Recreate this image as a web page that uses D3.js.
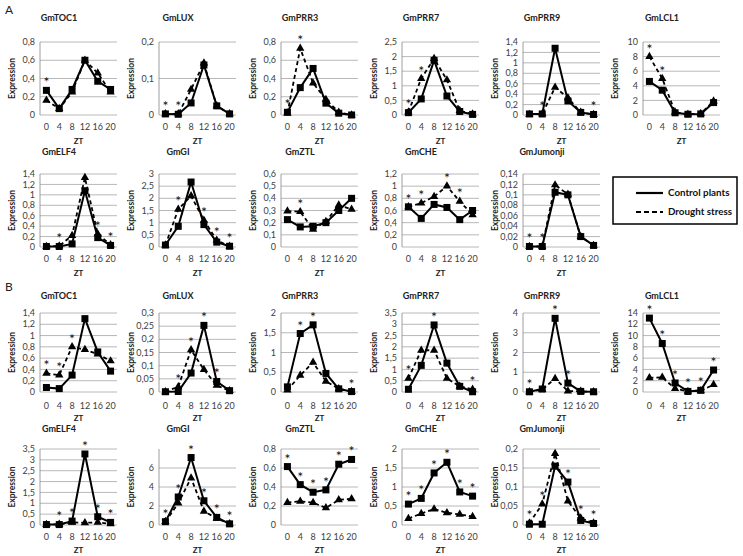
<!DOCTYPE html>
<html>
<head>
<meta charset="utf-8">
<script src="https://cdn.jsdelivr.net/npm/d3@7"></script>
<style>
  body { margin: 0; background: #fff; }
  svg text { font-family: Lato, "Open Sans", sans-serif; }
</style>
</head>
<body>
<script>
const zt = [0, 4, 8, 12, 16, 20];

// panel set A
const genesA = ["GmTOC1", "GmLUX", "GmPRR3", "GmPRR7", "GmPRR9", "GmLCL1", "GmELF4", "GmGI", "GmZTL", "GmCHE", "GmJumonji"];
const yMaxA = [0.8, 0.2, 0.8, 2.5, 1.4, 10, 1.4, 3, 0.6, 1.2, 0.14];
const yTopTickA = [0.8, 0.2, 0.8, 2.5, 1.4, 10, 1.4, 3, 0.6, 1.2, 0.14];
const yStepA = [0.2, 0.1, 0.2, 0.5, 0.2, 2, 0.2, 0.5, 0.1, 0.2, 0.02];
const controlA = [
  [0.27, 0.07, 0.28, 0.60, 0.37, 0.28],
  [0.003, 0.002, 0.033, 0.137, 0.025, 0.003],
  [0.03, 0.30, 0.51, 0.13, 0.02, 0.00],
  [0.08, 0.55, 1.87, 0.65, 0.12, 0.02],
  [0.02, 0.02, 1.28, 0.27, 0.05, 0.01],
  [4.6, 3.4, 0.3, 0.1, 0.15, 1.7],
  [0.01, 0.01, 0.06, 1.08, 0.18, 0.03],
  [0.08, 0.85, 2.67, 0.92, 0.20, 0.03],
  [0.225, 0.165, 0.17, 0.20, 0.30, 0.40],
  [0.66, 0.47, 0.70, 0.65, 0.45, 0.60],
  [0.001, 0.001, 0.105, 0.100, 0.020, 0.003]
];
const droughtA = [
  [0.16, 0.07, 0.25, 0.60, 0.46, 0.25],
  [0.003, 0.003, 0.07, 0.142, 0.025, 0.003],
  [0.02, 0.73, 0.35, 0.17, 0.03, 0.00],
  [0.10, 1.25, 1.93, 1.20, 0.15, 0.03],
  [0.01, 0.02, 0.53, 0.33, 0.05, 0.01],
  [8.0, 5.0, 0.4, 0.1, 0.2, 1.9],
  [0.01, 0.02, 0.22, 1.33, 0.25, 0.04],
  [0.08, 1.55, 2.10, 1.10, 0.28, 0.03],
  [0.295, 0.29, 0.145, 0.21, 0.345, 0.31],
  [0.66, 0.72, 0.83, 1.00, 0.75, 0.53],
  [0.001, 0.001, 0.119, 0.101, 0.020, 0.003]
];
const starsA = [[0], [0, 4], [0, 4], [0, 4], [4, 20], [0, 4], [4, 16, 20], [4, 12, 16, 20], [4], [0, 4, 12, 16], [0, 4]];

// panel set B
const genesB = ["GmTOC1", "GmLUX", "GmPRR3", "GmPRR7", "GmPRR9", "GmLCL1", "GmELF4", "GmGI", "GmZTL", "GmCHE", "GmJumonji"];
const yMaxB = [1.4, 0.3, 2, 3.5, 4, 14, 3.5, 8, 0.8, 2, 0.2];
const yTopTickB = [1.4, 0.3, 2, 3.5, 4, 14, 3.5, 6, 0.8, 2, 0.2];
const yStepB = [0.2, 0.05, 0.5, 0.5, 1, 2, 0.5, 2, 0.2, 0.5, 0.05];
const controlB = [
  [0.08, 0.06, 0.30, 1.30, 0.71, 0.37],
  [0.001, 0.002, 0.072, 0.253, 0.04, 0.005],
  [0.13, 1.48, 1.70, 0.47, 0.08, 0.01],
  [0.12, 1.18, 2.97, 1.28, 0.25, 0.01],
  [0.01, 0.15, 3.73, 0.45, 0.03, 0.01],
  [13.1, 8.6, 1.6, 0.1, 0.3, 3.9],
  [0.02, 0.02, 0.18, 3.27, 0.38, 0.12],
  [0.35, 2.95, 7.1, 2.55, 0.80, 0.12],
  [0.615, 0.425, 0.345, 0.37, 0.64, 0.69],
  [0.55, 0.70, 1.37, 1.65, 0.87, 0.76],
  [0.002, 0.002, 0.155, 0.113, 0.012, 0.004]
];
const droughtB = [
  [0.33, 0.30, 0.80, 0.75, 0.67, 0.55],
  [0.001, 0.02, 0.16, 0.085, 0.025, 0.005],
  [0.05, 0.42, 0.75, 0.27, 0.08, 0.01],
  [0.60, 1.85, 1.85, 0.60, 0.25, 0.12],
  [0.01, 0.12, 0.68, 0.05, 0.03, 0.01],
  [2.5, 2.6, 0.6, 0.1, 0.2, 1.3],
  [0.02, 0.03, 0.12, 0.10, 0.12, 0.05],
  [0.35, 2.3, 4.95, 1.45, 0.70, 0.12],
  [0.235, 0.25, 0.235, 0.18, 0.265, 0.275],
  [0.17, 0.30, 0.42, 0.32, 0.28, 0.22],
  [0.005, 0.055, 0.188, 0.063, 0.018, 0.005]
];
const starsB = [[0, 4, 8], [4, 8, 12, 16], [4, 8, 20], [0, 8, 20], [0, 8, 12], [0, 4, 8, 12, 16, 20],
  [4, 8, 12, 16, 20], [0, 4, 8, 12, 16, 20], [0, 4, 8, 12, 16, 20], [0, 4, 8, 12, 16, 20], [0, 4, 12, 16, 20]];

const legendLabels = ["Control plants", "Drought stress"];

const W = 743, H = 556;
const colStart = [2, 121, 243, 364, 485, 605];

// rows: A top, A bottom, B top, B bottom
const rows = [
  {title: 21, top: 42, bottom: 115, tick: 127, zt: 141},
  {title: 155, top: 174, bottom: 247, tick: 259, zt: 273},
  {title: 299, top: 313, bottom: 392, tick: 406, zt: 418},
  {title: 432, top: 449, bottom: 525, tick: 537, zt: 550}
];

const svg = d3.select("body").append("svg")
  .attr("width", W).attr("height", H);

const fmt = v => d3.format("~g")(+v.toFixed(6)).replace(".", ",");

function drawPanel(row, col, gene, yMax, yTop, yStep, ctrl, drought, stars) {
  const r = rows[row];
  const right = colStart[col] + 115;
  const left = right - 77;
  const x = d3.scalePoint().domain(zt).range([left, right]).padding(0.5);
  const y = d3.scaleLinear().domain([0, yMax]).range([r.bottom, r.top]);
  const ticks = d3.range(0, yTop + yStep / 2, yStep);
  const g = svg.append("g");

  g.append("text")
    .attr("x", colStart[col] + 57).attr("y", r.title)
    .attr("text-anchor", "middle").attr("font-size", 9).attr("font-weight", "bold")
    .attr("fill", "#222").text(gene);

  g.selectAll(".grid").data(ticks).enter().append("line")
    .attr("x1", left).attr("x2", right)
    .attr("y1", d => y(d)).attr("y2", d => y(d))
    .attr("stroke", "#a6a6a6").attr("stroke-width", 0.8);

  g.append("line")
    .attr("x1", left).attr("x2", left).attr("y1", y(yMax)).attr("y2", r.bottom)
    .attr("stroke", "#868686").attr("stroke-width", 0.8);

  g.selectAll(".yl").data(ticks).enter().append("text")
    .attr("x", left - 5).attr("y", d => y(d)).attr("dy", "0.35em")
    .attr("text-anchor", "end").attr("font-size", 9).attr("fill", "#404040")
    .text(fmt);

  g.selectAll(".xl").data(zt).enter().append("text")
    .attr("x", d => x(d)).attr("y", r.tick).attr("dy", "0.35em")
    .attr("text-anchor", "middle").attr("font-size", 9).attr("fill", "#404040")
    .text(d => d);

  g.append("text")
    .attr("x", (left + right) / 2).attr("y", r.zt).attr("dy", "0.35em")
    .attr("text-anchor", "middle").attr("font-size", 8).attr("font-weight", "bold")
    .attr("fill", "#222").text("ZT");

  g.append("text")
    .attr("transform", "translate(" + (left - 28) + "," + ((r.top + r.bottom) / 2) + ") rotate(-90)")
    .attr("dy", "0.35em").attr("text-anchor", "middle")
    .attr("font-size", 8.5).attr("font-weight", "bold").attr("fill", "#222")
    .text("Expression");

  const line = d3.line().x((d, i) => x(zt[i])).y(d => y(d));

  g.append("path").datum(drought).attr("d", line)
    .attr("fill", "none").attr("stroke", "#000").attr("stroke-width", 1.8)
    .attr("stroke-dasharray", "4,3");
  g.selectAll(".tri").data(drought).enter().append("path")
    .attr("d", d3.symbol(d3.symbolTriangle, 30))
    .attr("transform", (d, i) => "translate(" + x(zt[i]) + "," + y(d) + ")")
    .attr("fill", "#000");

  g.append("path").datum(ctrl).attr("d", line)
    .attr("fill", "none").attr("stroke", "#000").attr("stroke-width", 2);
  g.selectAll(".sq").data(ctrl).enter().append("rect")
    .attr("x", (d, i) => x(zt[i]) - 3.5).attr("y", d => y(d) - 3.5)
    .attr("width", 7).attr("height", 7).attr("fill", "#000");

  g.selectAll(".star").data(stars).enter().append("text")
    .attr("x", d => x(d))
    .attr("y", d => {
      const i = zt.indexOf(d);
      return Math.min(y(ctrl[i]), y(drought[i])) - 3;
    })
    .attr("text-anchor", "middle").attr("font-size", 14).attr("fill", "#111")
    .text("*");
}

genesA.forEach((gene, i) => {
  drawPanel(Math.floor(i / 6), i % 6, gene, yMaxA[i], yTopTickA[i], yStepA[i], controlA[i], droughtA[i], starsA[i]);
});
genesB.forEach((gene, i) => {
  drawPanel(2 + Math.floor(i / 6), i % 6, gene, yMaxB[i], yTopTickB[i], yStepB[i], controlB[i], droughtB[i], starsB[i]);
});

svg.append("text").attr("x", 5).attr("y", 14).attr("font-size", 12).attr("fill", "#222").text("A");
svg.append("text").attr("x", 5).attr("y", 291).attr("font-size", 12).attr("fill", "#222").text("B");

// legend
const lg = svg.append("g");
lg.append("rect").attr("x", 613).attr("y", 177).attr("width", 124).attr("height", 47)
  .attr("fill", "#fff").attr("stroke", "#000").attr("stroke-width", 1.5);
legendLabels.forEach((lab, i) => {
  const ly = 193 + i * 19;
  lg.append("line").attr("x1", 636).attr("x2", 663).attr("y1", ly).attr("y2", ly)
    .attr("stroke", "#000").attr("stroke-width", 2.2)
    .attr("stroke-dasharray", i === 0 ? null : "5,3");
  lg.append("text").attr("x", 668).attr("y", ly).attr("dy", "0.35em")
    .attr("font-size", 9.8).attr("font-weight", "bold").attr("fill", "#111").text(lab);
});
</script>
</body>
</html>
